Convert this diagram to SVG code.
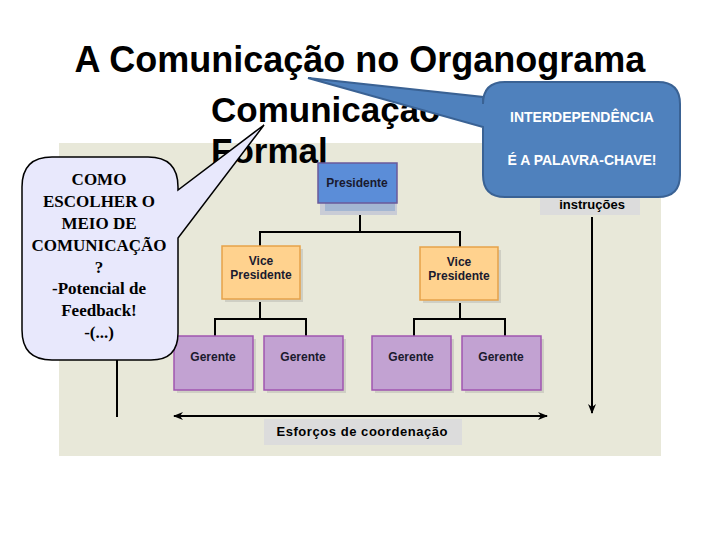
<svg xmlns="http://www.w3.org/2000/svg" width="720" height="540" viewBox="0 0 720 540">
<defs>
<style>
.title{font-family:"Liberation Sans",Arial,sans-serif;font-weight:bold;fill:#000}
.node{font-family:"Liberation Sans",Arial,sans-serif;font-weight:bold;font-size:12px;fill:#1a1a2e;text-anchor:middle}
.conn{stroke:#000;stroke-width:2;fill:none}
.pres{fill:#5B8DD8;stroke:#6A5A9A;stroke-width:1.5}
.vp{fill:#FFD28E;stroke:#E6A24A;stroke-width:1.5}
.ger{fill:#C2A2D2;stroke:#A055B0;stroke-width:1.5}
.shadow{fill:#CFCFC4}
.lbl{font-family:"Liberation Sans",Arial,sans-serif;font-weight:bold;font-size:13px;fill:#000;text-anchor:middle}
.note{font-family:"Liberation Serif","Times New Roman",serif;font-weight:bold;font-size:17px;fill:#000;text-anchor:middle}
.key{font-family:"Liberation Sans",Arial,sans-serif;font-weight:bold;font-size:14px;fill:#fff;text-anchor:middle}
</style>
<marker id="arr" viewBox="0 0 10 10" refX="9" refY="5" markerWidth="5" markerHeight="5" orient="auto-start-reverse" markerUnits="strokeWidth">
<path d="M0,1 L10,5 L0,9 L3,5 Z" fill="#000"/>
</marker>
</defs>
<rect width="720" height="540" fill="#fff"/>
<rect id="panel" x="59" y="143" width="602" height="313" fill="#E8E8D9"/>

<text class="title" x="360" y="72" font-size="36" text-anchor="middle">A Comunicação no Organograma</text>
<text class="title" x="211" y="122" font-size="35">Comunicação</text>
<text class="title" x="211" y="163" font-size="35">Formal</text>

<g id="connectors">
<line class="conn" x1="360" y1="211" x2="360" y2="232"/>
<polyline class="conn" points="260,246 260,232 460,232 460,247"/>
<polyline class="conn" points="260,299 260,319"/>
<polyline class="conn" points="215,336 215,319 306,319 306,336"/>
<polyline class="conn" points="460,300 460,319"/>
<polyline class="conn" points="414,336 414,319 505,319 505,336"/>
<line class="conn" x1="117" y1="345" x2="117" y2="417"/>
<line class="conn" x1="174" y1="416" x2="547" y2="416" marker-start="url(#arr)" marker-end="url(#arr)"/>
<line class="conn" x1="592" y1="217" x2="592" y2="413" marker-end="url(#arr)"/>
</g>

<g id="presidente">
<rect x="320" y="203" width="77" height="12" fill="#C9CCD6"/>
<rect x="325" y="203" width="70" height="8" fill="#A3B6D2"/>
<rect class="pres" x="318" y="163" width="79" height="40"/>
<text class="node" x="357" y="187">Presidente</text>
</g>

<g id="vp1">
<rect class="shadow" x="225" y="249" width="78" height="53"/>
<rect class="vp" x="222" y="246" width="78" height="53"/>
<text class="node" x="261" y="265">Vice</text>
<text class="node" x="261" y="279">Presidente</text>
</g>
<g id="vp2">
<rect class="shadow" x="423" y="250" width="78" height="53"/>
<rect class="vp" x="420" y="247" width="78" height="53"/>
<text class="node" x="459" y="266">Vice</text>
<text class="node" x="459" y="280">Presidente</text>
</g>

<g id="ger1">
<rect class="shadow" x="177" y="339" width="79" height="54"/>
<rect class="ger" x="174" y="336" width="79" height="54"/>
<text class="node" x="213" y="361">Gerente</text>
</g>
<g id="ger2">
<rect class="shadow" x="267" y="339" width="79" height="54"/>
<rect class="ger" x="264" y="336" width="79" height="54"/>
<text class="node" x="303" y="361">Gerente</text>
</g>
<g id="ger3">
<rect class="shadow" x="375" y="339" width="79" height="54"/>
<rect class="ger" x="372" y="336" width="79" height="54"/>
<text class="node" x="411" y="361">Gerente</text>
</g>
<g id="ger4">
<rect class="shadow" x="465" y="339" width="79" height="54"/>
<rect class="ger" x="462" y="336" width="79" height="54"/>
<text class="node" x="501" y="361">Gerente</text>
</g>

<g id="esforcos">
<rect x="264" y="419" width="198" height="26" fill="#DCDCDC"/>
<text class="lbl" x="362" y="436" textLength="171" lengthAdjust="spacing">Esforços de coordenação</text>
</g>

<g id="instrucoes">
<rect x="540" y="190" width="100" height="25" fill="#DCDCDC"/>
<text class="lbl" x="592" y="209">instruções</text>
</g>

<g id="callout-left">
<path d="M52,157 H148 Q178,157 178,187 V190 L264,125 L178,238 V333 Q178,360 151,360 H52 Q22,360 22,330 V187 Q22,157 52,157 Z" fill="#E8E8FC" stroke="#000" stroke-width="1.5"/>
<text class="note" x="99" y="185">COMO</text>
<text class="note" x="99" y="207">ESCOLHER O</text>
<text class="note" x="99" y="229">MEIO DE</text>
<text class="note" x="99" y="251">COMUNICAÇÃO</text>
<text class="note" x="99" y="273">?</text>
<text class="note" x="99" y="294">-Potencial de</text>
<text class="note" x="99" y="316">Feedback!</text>
<text class="note" x="99" y="338">-(...)</text>
</g>

<g id="callout-blue">
<path d="M505,82 H658 Q680,82 680,104 V175 Q680,197 658,197 H505 Q483,197 483,175 V127 L308,78 L483,97 V104 Q483,82 505,82 Z" fill="#4F81BD" stroke="#3A6294" stroke-width="2"/>
<text class="key" x="582" y="122">INTERDEPENDÊNCIA</text>
<text class="key" x="582" y="165">É A PALAVRA-CHAVE!</text>
</g>
</svg>
